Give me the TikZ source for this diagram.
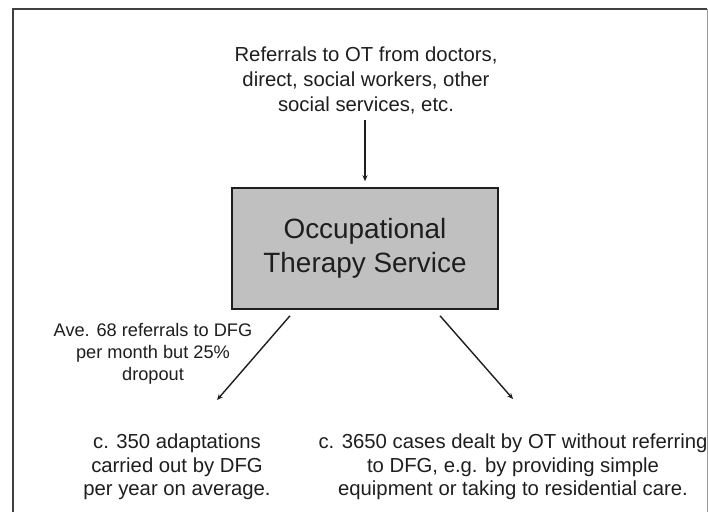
\documentclass[tikz,border=0pt]{standalone}
\usepackage{fontspec}
\setmainfont{Liberation Sans}
\usepackage{xcolor}
\usepackage{tikz}
\usetikzlibrary{arrows.meta,positioning,calc}

\definecolor{boxgray}{RGB}{192,192,192}
\definecolor{inkgray}{RGB}{30,30,30}

\begin{document}
\begin{tikzpicture}[x=1pt, y=-1pt,
    txt/.style={align=center, text=inkgray, inner sep=0pt},
    flow/.style={-{Stealth[length=6pt,width=5pt]}, line width=1.4pt, draw=inkgray}]
\useasboundingbox (0,0) rectangle (708,512);

% Outer frame (open at the bottom)
\draw[line width=2pt, draw=black!75] (13,512) -- (13,9) -- (707,9);
\draw[line width=1pt, draw=black!40] (707,9) -- (707,512);

% Incoming referrals
\node[txt, font=\fontsize{20.3}{25}\selectfont] (referrals) at (366,80)
  {Referrals to OT from doctors,\\direct, social workers, other\\social services, etc.};

% Central service
\node[draw=inkgray, line width=1.5pt, fill=boxgray, minimum width=266, minimum height=121,
      txt, font=\fontsize{27.9}{34}\selectfont] (ots) at (365,248.5)
  {Occupational\\Therapy Service};

\draw[flow, shorten <=6pt, shorten >=6pt] (referrals.south -| ots.north) -- (ots.north);

% Outcomes
\node[txt, font=\fontsize{18.2}{22}\selectfont] (dfglabel) at (153,354)
  {Ave. 68 referrals to DFG\\per month but 25\%\\dropout};
\node[txt, font=\fontsize{20.3}{23.5}\selectfont] (adapt) at (177,467)
  {c. 350 adaptations\\carried out by DFG\\per year on average.};
\node[txt, font=\fontsize{20.3}{23.5}\selectfont] (cases) at (513,467)
  {c. 3650 cases dealt by OT without referring\\to DFG, e.g. by providing simple\\equipment or taking to residential care.};

\coordinate (dfgstart) at ($(ots.south)+(-75,6)$);
\coordinate (dfgend) at (217,400);
\coordinate (otstart) at ($(ots.south)+(75,6)$);
\coordinate (otend) at (513,399);

\draw[flow] (dfgstart) -- (dfgend);
\draw[flow] (otstart) -- (otend);

\end{tikzpicture}
\end{document}
